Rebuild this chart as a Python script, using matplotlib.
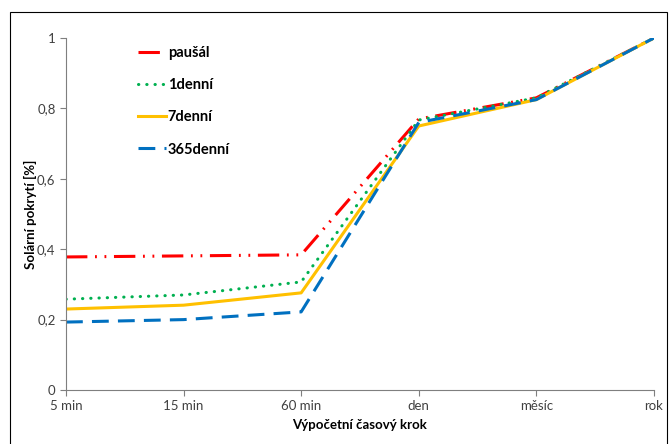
import numpy as np
import matplotlib.pyplot as plt
from matplotlib.patches import Rectangle

plt.rcParams['font.family'] = ['Lato', 'DejaVu Sans']

# casove kroky a solarni pokryti pro jednotlive tarify
kroky = ['5 min', '15 min', '60 min', 'den', 'měsíc', 'rok']
pausal = [0.378, 0.381, 0.384, 0.770, 0.830, 1.0]
denni_1 = [0.258, 0.270, 0.307, 0.767, 0.830, 1.0]
denni_7 = [0.230, 0.241, 0.276, 0.750, 0.825, 1.0]
denni_365 = [0.193, 0.200, 0.222, 0.760, 0.825, 1.0]

x = np.arange(len(kroky))

fig = plt.figure(figsize=(6.7, 4.44), dpi=100)
ax = fig.add_axes([0.0985, 0.1216, 0.8775, 0.7928])

# ramecek kolem celeho grafu
fig.patches.append(Rectangle((10 / 670, -0.01), 657 / 670, 1 - 12 / 444 + 0.01,
                             transform=fig.transFigure, fill=False,
                             edgecolor='black', linewidth=0.8))

lw = 2.2
ax.plot(x, pausal, color='#FF0000', linewidth=lw,
        dashes=(7, 2.5, 0.6, 2.5, 0.6, 2.5), label='paušál')
ax.plot(x, denni_1, color='#00B050', linewidth=lw,
        linestyle=(0, (0.1, 2.6)), dash_capstyle='round', label='1denní')
ax.plot(x, denni_7, color='#FFC000', linewidth=lw, label='7denní')
ax.plot(x, denni_365, color='#0070C0', linewidth=lw,
        dashes=(5.5, 3), label='365denní')

ax.set_xlim(0, len(kroky) - 1)
ax.set_ylim(0, 1)
ax.set_xticks(x)
ax.set_xticklabels(kroky)
ax.set_yticks([0, 0.2, 0.4, 0.6, 0.8, 1.0])
ax.set_yticklabels(['0', '0,2', '0,4', '0,6', '0,8', '1'])
ax.tick_params(colors='#7f7f7f', labelcolor='#404040', labelsize=9.5,
               length=4, direction='out')
for side in ['top', 'right']:
    ax.spines[side].set_visible(False)
for side in ['left', 'bottom']:
    ax.spines[side].set_color('#7f7f7f')

ax.set_xlabel('Výpočetní časový krok', fontsize=9.5, fontweight='bold', labelpad=5)
ax.set_ylabel('Solární pokrytí [%]', fontsize=9.5, fontweight='bold', labelpad=0)

leg = ax.legend(loc='upper left', bbox_to_anchor=(0.1, 1.015), frameon=False,
                handlelength=1.9, handletextpad=0.15, labelspacing=1.25,
                prop={'weight': 'bold', 'size': 10.5})

fig.savefig('out.png', dpi=100)
